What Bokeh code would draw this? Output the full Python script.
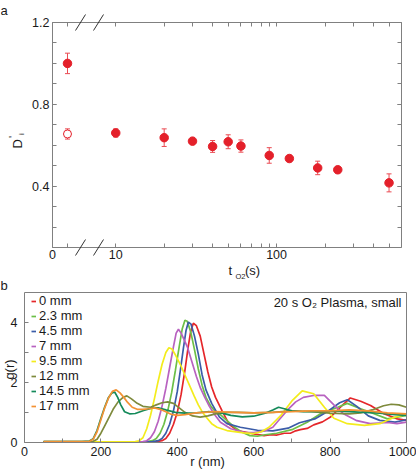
import math
from bokeh.plotting import figure
from bokeh.models import (FixedTicker, LinearAxis, Range1d, ColumnDataSource, Whisker,
                          TeeHead, Label, Arrow, Legend, LegendItem)
from bokeh.layouts import column
from bokeh.embed import file_html
from bokeh.resources import INLINE

# ---------------- Panel a data ----------------
t_values = [10, 20, 30, 40, 50, 60, 90, 120, 180, 240, 500]
d_values = [0.66, 0.637, 0.62, 0.594, 0.617, 0.596, 0.55, 0.535, 0.489, 0.48, 0.416]
d_errors = [0.02, 0.043, 0.015, 0.029, 0.034, 0.03, 0.038, 0.015, 0.033, 0.016, 0.044]
t0_filled_value = 1.0
t0_filled_error = 0.05
t0_open_value = 0.655
t0_open_error = 0.025
a_xtick_labels = ["0", "10", "100"]
a_ytick_values = [0.4, 0.8, 1.2]

# ---------------- Panel b data ----------------
series_labels = ["0 mm", "2.3 mm", "4.5 mm", "7 mm", "9.5 mm", "12 mm", "14.5 mm", "17 mm"]
series_colors = ["#e5262a", "#6cbf47", "#3b5ca8", "#b862c0", "#f3ec1c", "#7e8a3c", "#148a5a", "#f39234"]

r_0mm = [50, 150, 250, 345, 360, 370, 380, 390, 400, 410, 420, 428, 435, 442, 450, 460, 470, 480, 490, 500,
         517, 535, 557, 600, 627, 645, 661, 680, 696, 710, 722, 740, 757, 780, 801, 827, 853, 880, 906, 941, 976, 1000]
g_0mm = [0.01, 0.01, 0.01, 0.02, 0.05, 0.12, 0.3, 0.6, 1.0, 1.6, 2.4, 3.15, 3.7, 3.98, 3.9, 3.55, 2.95, 2.35, 1.85, 1.5,
         1.06, 0.61, 0.39, 0.28, 0.22, 0.25, 0.24, 0.3, 0.3, 0.38, 0.42, 0.46, 0.58, 0.68, 0.84, 1.17, 1.48, 1.37, 1.23, 0.95, 0.78, 0.73]

r_2_3mm = [50, 150, 250, 320, 335, 345, 355, 365, 375, 385, 395, 405, 413, 420, 426, 435, 445, 455, 465, 475, 488,
           500, 515, 530, 550, 570, 590, 610, 630, 660, 700, 740, 775, 820, 845, 880, 915, 950, 1000]
g_2_3mm = [0.01, 0.01, 0.01, 0.02, 0.05, 0.12, 0.3, 0.6, 1.05, 1.65, 2.4, 3.2, 3.8, 4.08, 4.05, 3.7, 3.1, 2.45, 1.9, 1.5, 1.2,
           1.02, 0.9, 0.72, 0.5, 0.33, 0.22, 0.2, 0.25, 0.3, 0.42, 0.67, 0.95, 1.17, 1.3, 1.12, 0.95, 0.78, 0.9]

r_4_5mm = [50, 150, 250, 335, 350, 360, 370, 380, 390, 400, 408, 416, 423, 429, 436, 445, 455, 465, 475, 490, 510,
           530, 565, 610, 650, 690, 720, 760, 790, 825, 845, 870, 900, 930, 970, 1000]
g_4_5mm = [0.01, 0.01, 0.01, 0.02, 0.05, 0.12, 0.3, 0.6, 1.05, 1.7, 2.4, 3.15, 3.75, 4.02, 3.95, 3.55, 2.95, 2.25, 1.75, 1.3, 0.85,
           0.62, 0.5, 0.4, 0.38, 0.47, 0.65, 0.78, 1.0, 1.32, 1.42, 1.2, 0.88, 0.73, 0.67, 0.75]

r_7mm = [50, 150, 250, 310, 320, 330, 340, 350, 360, 370, 380, 390, 397, 403, 410, 426, 438, 450, 461, 472, 484, 496,
         513, 540, 575, 600, 630, 650, 670, 690, 710, 730, 760, 785, 810, 835, 870, 905, 950, 975, 1000]
g_7mm = [0.01, 0.01, 0.01, 0.02, 0.05, 0.15, 0.35, 0.7, 1.2, 1.8, 2.5, 3.2, 3.65, 3.78, 3.65, 3.2, 2.7, 2.2, 1.8, 1.5, 1.2, 0.95,
         0.67, 0.45, 0.33, 0.32, 0.38, 0.5, 0.8, 1.1, 1.35, 1.5, 1.57, 1.57, 1.25, 0.95, 0.72, 0.62, 0.66, 0.62, 0.67]

r_9_5mm = [50, 150, 250, 290, 300, 310, 320, 330, 340, 350, 360, 370, 378, 386, 396, 408, 420, 432, 444, 455, 466, 478,
           490, 504, 530, 574, 600, 620, 640, 670, 700, 727, 757, 785, 810, 845, 890, 930, 965, 1000]
g_9_5mm = [0.01, 0.01, 0.01, 0.02, 0.05, 0.15, 0.45, 0.9, 1.45, 2.05, 2.6, 3.0, 3.16, 3.12, 2.9, 2.6, 2.25, 1.9, 1.55, 1.25, 1.0, 0.8,
           0.62, 0.5, 0.39, 0.31, 0.29, 0.35, 0.5, 0.88, 1.38, 1.72, 1.62, 1.17, 0.8, 0.62, 0.56, 0.62, 0.82, 0.95]

r_12mm = [50, 100, 150, 180, 190, 200, 210, 220, 232, 245, 258, 268, 280, 295, 310, 330, 345, 360, 375, 390, 405, 420,
          440, 460, 480, 500, 530, 560, 600, 650, 700, 750, 800, 850, 880, 910, 940, 960, 980, 1000]
g_12mm = [0.02, 0.02, 0.02, 0.03, 0.1, 0.3, 0.55, 0.8, 1.1, 1.35, 1.5, 1.55, 1.45, 1.3, 1.2, 1.17, 1.25, 1.32, 1.35, 1.3, 1.15, 1.0,
          0.88, 0.84, 0.88, 0.95, 1.0, 1.0, 0.98, 1.0, 1.05, 1.02, 0.97, 0.95, 0.98, 1.08, 1.22, 1.27, 1.25, 1.17]

r_14_5mm = [50, 100, 150, 170, 180, 190, 200, 210, 220, 228, 236, 244, 252, 262, 275, 290, 312, 335, 350, 370, 395, 420,
            450, 480, 510, 540, 570, 600, 630, 650, 665, 680, 700, 730, 770, 810, 850, 890, 930, 970, 1000]
g_14_5mm = [0.02, 0.02, 0.02, 0.04, 0.12, 0.4, 0.8, 1.18, 1.5, 1.64, 1.68, 1.5, 1.25, 1.02, 0.95, 0.96, 1.06, 1.15, 1.15, 1.08, 1.0, 0.97,
            0.98, 1.02, 1.0, 0.9, 0.85, 0.87, 0.97, 1.08, 1.17, 1.12, 1.05, 1.02, 1.03, 1.05, 1.02, 1.0, 0.97, 0.92, 0.9]

r_17mm = [50, 100, 150, 170, 180, 190, 200, 210, 220, 230, 240, 250, 260, 270, 282, 295, 310, 325, 340, 355, 370, 385,
          400, 420, 450, 500, 550, 600, 650, 700, 750, 800, 850, 900, 950, 1000]
g_17mm = [0.02, 0.02, 0.02, 0.03, 0.1, 0.35, 0.75, 1.15, 1.48, 1.7, 1.75, 1.65, 1.5, 1.33, 1.17, 1.1, 1.1, 1.12, 1.15, 1.1, 1.02, 0.93,
          0.9, 0.92, 0.98, 1.02, 1.0, 0.98, 1.0, 1.02, 1.05, 1.05, 1.08, 1.05, 0.98, 0.95]

series_r = [r_0mm, r_2_3mm, r_4_5mm, r_7mm, r_9_5mm, r_12mm, r_14_5mm, r_17mm]
series_g = [g_0mm, g_2_3mm, g_4_5mm, g_7mm, g_9_5mm, g_12mm, g_14_5mm, g_17mm]
b_xticks = [0, 200, 400, 600, 800, 1000]
b_yticks = [0, 2, 4]

# ---------------- styling / layout ----------------
FONT = "Liberation Sans"
FRAME = "#808080"
TXT = "#1a1a1a"
RED = "#e4202a"
RED_ERR = "#ea4a52"

W = 416
A_H = 279
B_H = 190

# panel a geometry: broken log axis, positions in decades
ZERO_POS = 0.70                 # where t = 0 sits, left of the break
X_START, X_END = 0.6068, 2.7764
Y_START, Y_END = 0.1, 1.2
A_L, A_R, A_T, A_B = 52, 401, 22, 247          # plot box in canvas pixels
SXA = (A_R - A_L) / (X_END - X_START)
SYA = (A_B - A_T) / (Y_END - Y_START)


def ax_a(px):
    return X_START + (px - A_L) / SXA


def ay_a(py):
    return Y_END - (py - A_T) / SYA


def style_axis(ax, labels=True, standoff=3, tick=4, ticks=True):
    ax.axis_line_color = FRAME
    ax.major_tick_line_color = FRAME if ticks else None
    ax.minor_tick_line_color = FRAME if ticks else None
    ax.major_tick_in = tick
    ax.major_tick_out = 0
    ax.minor_tick_in = tick
    ax.minor_tick_out = 0
    ax.major_label_text_font = FONT
    ax.major_label_text_font_size = "12.5px"
    ax.major_label_text_color = TXT if labels else None
    ax.major_label_standoff = standoff


pa = figure(width=W, height=A_H, x_range=Range1d(ax_a(0), ax_a(W)), y_range=Range1d(ay_a(A_H), ay_a(0)),
            output_backend="svg", toolbar_location=None,
            x_axis_location=None, y_axis_location=None,
            min_border=0, min_border_left=0, min_border_right=0, min_border_top=0, min_border_bottom=0)
pa.grid.visible = False
pa.outline_line_color = None
pa.background_fill_color = "white"
pa.border_fill_color = "white"

x_major = [X_START, 1.0, 2.0]
x_minor = [ZERO_POS] + [math.log10(k * 10) for k in range(2, 10)] + [math.log10(k * 100) for k in range(2, 6)]
y_minor = [round(0.1 * k, 1) for k in range(1, 13)]
xt = FixedTicker(ticks=x_major, minor_ticks=x_minor)
yt = FixedTicker(ticks=a_ytick_values, minor_ticks=y_minor)

xb = LinearAxis(ticker=xt, fixed_location=Y_START, bounds=(X_START, X_END),
                major_label_overrides=dict(zip(x_major, a_xtick_labels)))
style_axis(xb, standoff=2)
pa.add_layout(xb, "below")
xa = LinearAxis(ticker=xt, fixed_location=Y_END, bounds=(X_START, X_END))
style_axis(xa, labels=False)
pa.add_layout(xa, "above")
yl = LinearAxis(ticker=yt, fixed_location=X_START, bounds=(Y_START, Y_END))
style_axis(yl, standoff=3)
pa.add_layout(yl, "left")
yr = LinearAxis(ticker=yt, fixed_location=X_END, bounds=(Y_START, Y_END))
style_axis(yr, labels=False)
pa.add_layout(yr, "right")

u_values = [math.log10(t) for t in t_values]
src = ColumnDataSource(dict(x=u_values, y=d_values,
                            lo=[v - e for v, e in zip(d_values, d_errors)],
                            hi=[v + e for v, e in zip(d_values, d_errors)]))
src0 = ColumnDataSource(dict(x=[ZERO_POS, ZERO_POS], y=[t0_filled_value, t0_open_value],
                             lo=[t0_filled_value - t0_filled_error, t0_open_value - t0_open_error],
                             hi=[t0_filled_value + t0_filled_error, t0_open_value + t0_open_error]))
for s in (src, src0):
    pa.add_layout(Whisker(source=s, base="x", lower="lo", upper="hi", dimension="height",
                          line_color=RED_ERR, line_width=1,
                          lower_head=TeeHead(size=5, line_color=RED_ERR, line_width=1),
                          upper_head=TeeHead(size=5, line_color=RED_ERR, line_width=1)))
pa.scatter("x", "y", source=src, size=8.5, fill_color=RED, line_color=RED)
pa.scatter(x=[ZERO_POS], y=[t0_filled_value], size=8.5, fill_color=RED, line_color=RED)
pa.scatter(x=[ZERO_POS], y=[t0_open_value], size=8, fill_color="white", line_color=RED, line_width=1)

# axis-break slashes on bottom and top edges
for cx in (80, 98):
    for cy in (A_T, A_B):
        pa.add_layout(Arrow(end=None, x_start=ax_a(cx - 5), y_start=ay_a(cy + 8),
                            x_end=ax_a(cx + 5), y_end=ay_a(cy - 8),
                            line_color="#333333", line_width=1))


def lab(p, x, y, text, size, align="left", angle=0.0):
    p.add_layout(Label(x=x, y=y, text=text, angle=angle, text_font=FONT, text_font_size=size,
                       text_color=TXT, text_align=align, text_baseline="middle"))


lab(pa, ax_a(0), ay_a(10), "a", "13px")
lab(pa, ax_a(228), ay_a(270), "t", "13px")
lab(pa, ax_a(235), ay_a(275.5), "O2", "7.5px")
lab(pa, ax_a(244.5), ay_a(270), "(s)", "13px")
lab(pa, ax_a(16.5), ay_a(148), "D", "13px", angle=math.pi / 2)
lab(pa, ax_a(12.5), ay_a(136.5), "'", "11px", align="center", angle=math.pi / 2)
lab(pa, ax_a(21), ay_a(133.5), "i", "8px", align="center", angle=math.pi / 2)

# ---------------- Panel b ----------------
B_L, B_R, B_T, B_B = 24, 406, 292.3, 441.7      # plot box in page pixels
SXB = (B_R - B_L) / 1000.0
SYB = (B_B - B_T) / 5.0


def bx(px):
    return (px - B_L) / SXB


def by(py):
    return (B_B - py) / SYB


pb = figure(width=W, height=B_H, x_range=Range1d(bx(0), bx(W)), y_range=Range1d(by(A_H + B_H), by(A_H)),
            output_backend="svg", toolbar_location=None,
            x_axis_location=None, y_axis_location=None,
            min_border=0, min_border_left=0, min_border_right=0, min_border_top=0, min_border_bottom=0)
pb.grid.visible = False
pb.outline_line_color = None
pb.background_fill_color = "white"
pb.border_fill_color = "white"

bxa = LinearAxis(ticker=FixedTicker(ticks=b_xticks, minor_ticks=[100, 300, 500, 700, 900]),
                 fixed_location=0, bounds=(0, 1000))
style_axis(bxa, standoff=5)
pb.add_layout(bxa, "below")
bya = LinearAxis(ticker=FixedTicker(ticks=b_yticks, minor_ticks=[1, 3]), fixed_location=0, bounds=(0, 5))
style_axis(bya, standoff=7)
pb.add_layout(bya, "left")
bxt = LinearAxis(ticker=FixedTicker(ticks=b_xticks), fixed_location=5, bounds=(0, 1000))
style_axis(bxt, labels=False, ticks=False)
pb.add_layout(bxt, "above")
byr = LinearAxis(ticker=FixedTicker(ticks=b_yticks), fixed_location=1000, bounds=(0, 5))
style_axis(byr, labels=False, ticks=False)
pb.add_layout(byr, "right")

items = []
for lbl, col, rr, gg in zip(series_labels, series_colors, series_r, series_g):
    rend = pb.line(rr, gg, line_color=col, line_width=1.7)
    items.append(LegendItem(label=lbl, renderers=[rend]))

leg = Legend(items=items, location=(31, 56), padding=0, margin=0, spacing=0,
             glyph_width=5, glyph_height=14, label_height=14, label_standoff=3,
             label_text_font=FONT, label_text_font_size="13px", label_text_color=TXT,
             background_fill_alpha=0, border_line_color=None)
pb.add_layout(leg)

lab(pb, bx(401), by(302), "20 s O\u2082 Plasma, small", "13px", align="right")
lab(pb, bx(0), by(285), "b", "13px")
lab(pb, bx(9), by(369), "g(r)", "13px", align="center", angle=math.pi / 2)
lab(pb, bx(207), by(460.5), "r (nm)", "13px", align="center")

layout = column(pa, pb, spacing=0)
open("out.html", "w").write(file_html(layout, INLINE))
